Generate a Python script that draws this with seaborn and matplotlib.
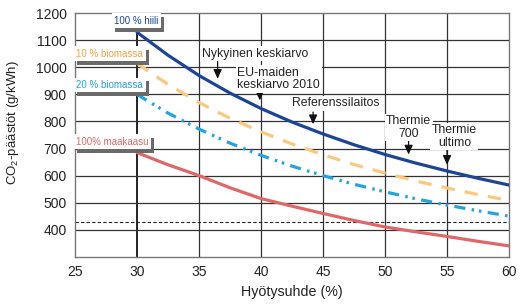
import matplotlib
matplotlib.use("Agg")
import matplotlib.pyplot as plt
import matplotlib.patheffects as pe
import seaborn as sns
import pandas as pd

# ---- data ----
efficiency = [30, 32.5, 35, 37.5, 40, 42.5, 45, 47.5, 50, 52.5, 55, 57.5, 60]
coal_100 = [1130, 1045, 970, 905, 848, 798, 754, 714, 678, 646, 617, 590, 565]
bio_10 = [1015, 937, 870, 812, 762, 717, 677, 641, 609, 580, 554, 530, 508]
bio_20 = [900, 831, 772, 720, 675, 635, 600, 568, 540, 514, 491, 470, 450]
gas_100 = [685, 640, 600, 555, 515, 487, 460, 434, 410, 392, 375, 357, 340]
series_names = ["100 % hiili", "10 % biomassa", "20 % biomassa", "100% maakaasu"]
reference_level = 430
x_ticks = [25, 30, 35, 40, 45, 50, 55, 60]
y_ticks = [400, 500, 600, 700, 800, 900, 1000, 1100, 1200]
annot_texts = ["Nykyinen keskiarvo", "EU-maiden\nkeskiarvo 2010", "Referenssilaitos",
               "Thermie\n700", "Thermie\nultimo"]

sns.set_style("white")
plt.rcParams["font.family"] = ["Liberation Sans", "DejaVu Sans"]
plt.rcParams["mathtext.fontset"] = "custom"
plt.rcParams["mathtext.rm"] = "Liberation Sans"

df = pd.DataFrame({
    "x": efficiency * 4,
    "y": coal_100 + bio_10 + bio_20 + gas_100,
    "s": sum([[n] * len(efficiency) for n in series_names], []),
})

colors = ["#1c4597", "#fcc97c", "#22a4de", "#e06767"]
styles = ["-", (0, (4.2, 3.2)), (0, (3.5, 2, 0.8, 1.5, 0.8, 2)), "-"]

fig = plt.figure(figsize=(5.21, 3.06), dpi=100)
ax = fig.add_axes([0.144, 0.161, 0.833, 0.7955])

# grid
for xv in x_ticks[1:-1]:
    ax.axvline(xv, color="#111111" if xv == 30 else "#333333",
               lw=1.3 if xv == 30 else 0.9, zorder=1)
for yv in y_ticks[:-1]:
    ax.axhline(yv, color="#333333", lw=0.9, zorder=1)
ax.axhline(reference_level, color="#222222", lw=0.8, ls=(0, (3, 2)), zorder=1)

for name, c, ls in zip(series_names, colors, styles):
    sns.lineplot(data=df[df.s == name], x="x", y="y", color=c, lw=2.3,
                 linestyle=ls, ax=ax, zorder=3, legend=False)

ax.set_xlim(25, 60)
ax.set_ylim(300, 1200)
ax.set_xticks(x_ticks)
ax.set_yticks(y_ticks)
ax.tick_params(axis="both", labelsize=10, colors="#222222", direction="out",
               width=0.8)
ax.tick_params(axis="x", length=4, pad=2)
ax.tick_params(axis="y", length=0, pad=6)
for sp in ax.spines.values():
    sp.set_color("#777777")
    sp.set_linewidth(1.0)
ax.set_xlabel("Hyötysuhde (%)", fontsize=10.3, color="#222222", labelpad=4)
ax.set_ylabel(r"CO$_\mathregular{2}$-päästöt (g/kWh)", fontsize=9.5,
              color="#222222", labelpad=7)
ax.yaxis.set_label_coords(-0.125, 0.55)

# series labels with shadowed white boxes
label_pos = [(29.95, 1172), (27.8, 1050), (27.8, 935), (28.0, 725)]
for name, c, (lx, ly) in zip(series_names, colors, label_pos):
    t = ax.text(lx, ly, name, color=c if c != "#fcc97c" else "#f7a040",
                fontsize=7, ha="center", va="center", zorder=5,
                bbox=dict(boxstyle="square,pad=0.25", fc="white", ec="none"))
    t.get_bbox_patch().set_path_effects([
        pe.SimplePatchShadow(offset=(2.5, -2.5), shadow_rgbFace="#6a6a6a", alpha=1.0),
        pe.Normal()])

# annotations with arrows
ann = [
    (annot_texts[0], (39.5, 1050), "center", (36.5, 1022), (36.5, 958)),
    (annot_texts[1], (38.1, 957), "left", (39.9, 920), (39.9, 878)),
    (annot_texts[2], (46.0, 868), "center", (44.2, 835), (44.2, 790)),
    (annot_texts[3], (51.9, 777), "center", (51.9, 735), (51.9, 678)),
    (annot_texts[4], (55.6, 745), "center", (55.0, 700), (55.0, 640)),
]
for txt, (tx, ty), ha, start, tip in ann:
    ax.annotate("", xy=tip, xytext=start, zorder=4,
                arrowprops=dict(arrowstyle="-|>,head_length=0.55,head_width=0.25",
                                color="#111111", lw=0.9, shrinkA=0, shrinkB=0))
    ax.text(tx, ty, txt, fontsize=8.8, ha=ha, va="center", color="#222222",
            linespacing=1.05, zorder=5,
            bbox=dict(boxstyle="square,pad=0.12", fc="white", ec="none"))

fig.savefig("out.png", dpi=100)
